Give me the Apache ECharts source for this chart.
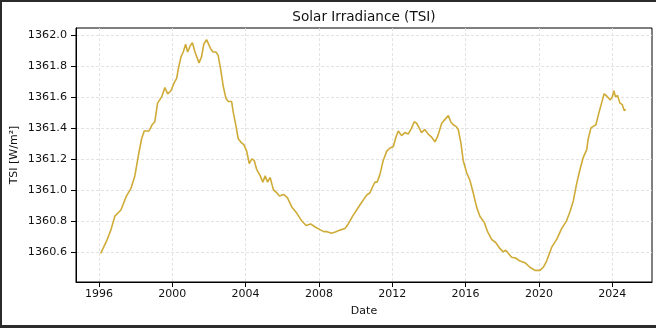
<!DOCTYPE html>
<html>
<head>
<meta charset="utf-8">
<script src="https://cdn.jsdelivr.net/npm/echarts@6/dist/echarts.min.js"></script>
<style>
  html, body { margin: 0; padding: 0; background: #fff; }
  #chart { width: 656px; height: 328px; }
</style>
</head>
<body>
<div id="chart"></div>
<script>
const dates = [
  1996.10, 1996.42, 1996.65, 1996.87, 1997.20, 1997.50, 1997.75, 1997.96, 1998.15, 1998.33,
  1998.47, 1998.73, 1998.90, 1999.05, 1999.20, 1999.42, 1999.60, 1999.75, 1999.93, 2000.10,
  2000.24, 2000.33, 2000.48, 2000.60, 2000.73, 2000.84, 2000.98, 2001.10, 2001.24, 2001.46,
  2001.60, 2001.72, 2001.87, 2001.96, 2002.10, 2002.23, 2002.38, 2002.50, 2002.64, 2002.78,
  2002.93, 2003.06, 2003.24, 2003.33, 2003.48, 2003.60, 2003.73, 2003.91, 2004.06, 2004.20,
  2004.34, 2004.47, 2004.61, 2004.80, 2004.94, 2005.07, 2005.20, 2005.34, 2005.52, 2005.71,
  2005.85, 2006.07, 2006.28, 2006.52, 2006.79, 2007.06, 2007.30, 2007.55, 2007.79, 2008.03,
  2008.27, 2008.45, 2008.69, 2008.93, 2009.15, 2009.42, 2009.60, 2009.84, 2010.06, 2010.28,
  2010.51, 2010.64, 2010.78, 2010.93, 2011.06, 2011.18, 2011.33, 2011.51, 2011.70, 2011.88,
  2012.06, 2012.20, 2012.33, 2012.51, 2012.69, 2012.87, 2013.06, 2013.20, 2013.33, 2013.47,
  2013.60, 2013.78, 2013.96, 2014.15, 2014.33, 2014.46, 2014.57, 2014.70, 2014.88, 2015.06,
  2015.19, 2015.33, 2015.48, 2015.60, 2015.75, 2015.87, 2016.06, 2016.24, 2016.42, 2016.60,
  2016.78, 2017.02, 2017.20, 2017.42, 2017.64, 2017.88, 2018.06, 2018.19, 2018.33, 2018.51,
  2018.73, 2018.97, 2019.24, 2019.51, 2019.79, 2020.06, 2020.24, 2020.42, 2020.70, 2020.97,
  2021.24, 2021.51, 2021.70, 2021.88, 2022.06, 2022.24, 2022.42, 2022.61, 2022.69, 2022.84,
  2022.97, 2023.11, 2023.28, 2023.42, 2023.56, 2023.75, 2023.89, 2024.00, 2024.09, 2024.18,
  2024.29, 2024.42, 2024.55, 2024.66, 2024.73
];
const tsi = [
  1360.59, 1360.67, 1360.74, 1360.83, 1360.87, 1360.96, 1361.01, 1361.09, 1361.22, 1361.33,
  1361.38, 1361.38, 1361.42, 1361.44, 1361.56, 1361.60, 1361.66, 1361.62, 1361.64, 1361.69,
  1361.72, 1361.78, 1361.86, 1361.89, 1361.94, 1361.89, 1361.93, 1361.95, 1361.89, 1361.82,
  1361.86, 1361.94, 1361.97, 1361.96, 1361.91, 1361.89, 1361.89, 1361.87, 1361.78, 1361.67,
  1361.59, 1361.57, 1361.57, 1361.50, 1361.41, 1361.33, 1361.31, 1361.29, 1361.25, 1361.17,
  1361.20, 1361.19, 1361.13, 1361.09, 1361.05, 1361.09, 1361.05, 1361.08, 1361.00, 1360.98,
  1360.96, 1360.97, 1360.95, 1360.89, 1360.85, 1360.80, 1360.77, 1360.78, 1360.76, 1360.745,
  1360.73, 1360.73, 1360.72, 1360.73, 1360.74, 1360.75, 1360.78, 1360.83, 1360.87, 1360.91,
  1360.95, 1360.97, 1360.98, 1361.02, 1361.05, 1361.05, 1361.10, 1361.19, 1361.25, 1361.27,
  1361.28, 1361.34, 1361.38, 1361.35, 1361.37, 1361.36, 1361.40, 1361.44, 1361.43, 1361.40,
  1361.37, 1361.39, 1361.36, 1361.34, 1361.31, 1361.34, 1361.38, 1361.43, 1361.455, 1361.48,
  1361.44, 1361.42, 1361.41, 1361.39, 1361.30, 1361.19, 1361.11, 1361.06, 1360.98, 1360.89,
  1360.83, 1360.79, 1360.73, 1360.68, 1360.66, 1360.62, 1360.60, 1360.61, 1360.59, 1360.565,
  1360.56, 1360.54, 1360.53, 1360.50, 1360.48, 1360.48, 1360.50, 1360.54, 1360.63, 1360.68,
  1360.75, 1360.80, 1360.86, 1360.93, 1361.04, 1361.13, 1361.21, 1361.26, 1361.33, 1361.40,
  1361.41, 1361.42, 1361.50, 1361.56, 1361.62, 1361.60, 1361.58, 1361.60, 1361.64, 1361.60,
  1361.61, 1361.56, 1361.55, 1361.51, 1361.52
];
const xTicks = [1996, 2000, 2004, 2008, 2012, 2016, 2020, 2024];
const yTicks = [1360.6, 1360.8, 1361.0, 1361.2, 1361.4, 1361.6, 1361.8, 1362.0];

const FONT = 'DejaVu Sans';
const chart = echarts.init(document.getElementById('chart'), null, { renderer: 'canvas' });
const gridLine = { show: true, lineStyle: { color: '#dcdcdc', width: 0.8, type: [3, 2] } };

chart.setOption({
  animation: false,
  backgroundColor: '#ffffff',
  title: {
    text: 'Solar Irradiance (TSI)',
    left: 359,
    textAlign: 'center',
    top: 5,
    textStyle: { fontFamily: FONT, fontSize: 13.6, fontWeight: 'normal', color: '#111' }
  },
  grid: {
    left: 76, right: 4, top: 28, bottom: 46,
    show: true, borderColor: '#000', borderWidth: 1, backgroundColor: 'transparent',
    outerBoundsMode: 'none'
  },
  xAxis: {
    type: 'value',
    min: 1994.75, max: 2026.17,
    name: 'Date', nameLocation: 'middle', nameGap: 24, nameMoveOverlap: false,
    nameTextStyle: { fontFamily: FONT, fontSize: 11, color: '#111' },
    axisLine: { show: true, lineStyle: { color: '#000', width: 1 } },
    axisTick: { show: true, customValues: xTicks, length: 5, lineStyle: { color: '#000' } },
    axisLabel: { customValues: xTicks, fontFamily: FONT, fontSize: 11, color: '#111', margin: 7,
      formatter: v => String(Math.round(v)) },
    splitLine: gridLine
  },
  yAxis: {
    type: 'value',
    min: 1360.405, max: 1362.045,
    name: 'TSI [W/m²]', nameLocation: 'middle', nameGap: 56, nameRotate: 90, nameMoveOverlap: false,
    nameTextStyle: { fontFamily: FONT, fontSize: 11, color: '#111' },
    axisLine: { show: true, lineStyle: { color: '#000', width: 1 } },
    axisTick: { show: true, customValues: yTicks, length: 5, lineStyle: { color: '#000' } },
    axisLabel: { customValues: yTicks, fontFamily: FONT, fontSize: 11.2, color: '#111', margin: 9,
      formatter: v => v.toFixed(1) },
    splitLine: gridLine
  },
  graphic: [
    { type: 'rect', shape: { x: 0, y: 0, width: 656, height: 2 }, style: { fill: '#2b2b2b' }, silent: true },
    { type: 'rect', shape: { x: 0, y: 0, width: 2, height: 328 }, style: { fill: '#2b2b2b' }, silent: true },
    { type: 'rect', shape: { x: 0, y: 325, width: 656, height: 3 }, style: { fill: '#2b2b2b' }, silent: true }
  ],
  series: [{
    type: 'line',
    data: dates.map((d, i) => [d, tsi[i]]),
    showSymbol: false,
    lineStyle: { color: '#cfab38', width: 1.6 },
    itemStyle: { color: '#cfab38' }
  }]
});
</script>
</body>
</html>
